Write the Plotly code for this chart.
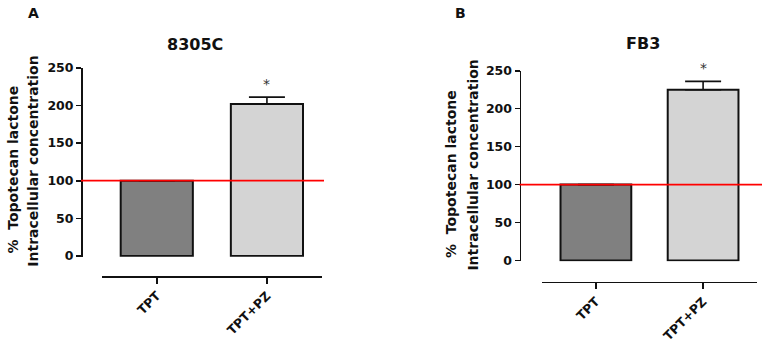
import plotly.graph_objects as go

# ---- data ----
categories = ["TPT", "TPT+PZ"]
values_a = [100, 202]
sem_a = [None, 9]
values_b = [100, 225]
sem_b = [None, 11]
title_a = "8305C"
title_b = "FB3"
y_tick_vals = [0, 50, 100, 150, 200, 250]
reference_level = 100
ytitle_line1 = "%  Topotecan lactone"
ytitle_line2 = "Intracellular concentration"
bar_colors = ["#808080", "#d4d4d4"]

W, H = 765, 348
FONT = "DejaVu Sans"

def px_x(p):
    return p / W

def px_y(p):
    return 1 - p / H

fig = go.Figure()

for i, (vals, sems, xa, ya) in enumerate([(values_a, sem_a, "x", "y"), (values_b, sem_b, "x2", "y2")]):
    fig.add_trace(go.Bar(
        x=categories, y=vals,
        xaxis=xa, yaxis=ya,
        width=0.655 if i == 0 else 0.66,
        marker=dict(color=bar_colors, line=dict(color="#111111", width=2)),
        error_y=dict(type="data", array=sems, arrayminus=[0, 0], symmetric=False,
                     color="#111111", thickness=1.6, width=18),
        showlegend=False, hoverinfo="skip",
    ))

axis_common = dict(showgrid=False, zeroline=False, showline=True, linecolor="#111111",
                   linewidth=1.6, ticks="outside", tickcolor="#111111", tickwidth=1.6,
                   automargin=False)
tick_font = dict(family=FONT, size=12.5, color="#111111", weight="bold")

# panel A geometry (pixels)
ya0_a, y250_a = 256.0, 67.8
sc_a = (ya0_a - y250_a) / 250
yb_a = ya0_a + sc_a * 1.0
# panel B geometry
ya0_b, y250_b = 260.5, 70.7
sc_b = (ya0_b - y250_b) / 250
yb_b = ya0_b + sc_b * 1.0

fig.update_layout(
    width=W, height=H, autosize=False,
    margin=dict(l=0, r=0, t=0, b=0, pad=0, autoexpand=False),
    paper_bgcolor="white", plot_bgcolor="rgba(0,0,0,0)",
    hovermode=False, dragmode=False,
    xaxis=dict(axis_common, domain=[px_x(101.7), px_x(322.0)], anchor="free", position=px_y(276.0),
               range=[-0.5, 1.5], ticklen=6, tickangle=-45, tickfont=tick_font),
    yaxis=dict(axis_common, domain=[px_y(yb_a), px_y(y250_a)], anchor="free", position=px_x(81.0),
               range=[-1, 250], tickvals=y_tick_vals, ticklen=5, tickfont=tick_font),
    xaxis2=dict(axis_common, domain=[px_x(542.3), px_x(756.7)], anchor="free", position=px_y(281.7),
                range=[-0.5, 1.5], ticklen=6, tickangle=-45, tickfont=tick_font),
    yaxis2=dict(axis_common, domain=[px_y(yb_b), px_y(y250_b)], anchor="free", position=px_x(519.5),
                range=[-1, 250], tickvals=y_tick_vals, ticklen=5, tickfont=tick_font),
)

# reference lines at 100%
fig.add_shape(type="line", xref="paper", yref="y", x0=px_x(81.0), x1=px_x(324.0),
              y0=reference_level, y1=reference_level, line=dict(color="#ff0000", width=1.8))
fig.add_shape(type="line", xref="paper", yref="y2", x0=px_x(519.5), x1=px_x(762.0),
              y0=reference_level, y1=reference_level, line=dict(color="#ff0000", width=1.8))

ann = []
# significance stars
for vals, sems, xr, yr in [(values_a, sem_a, "x", "y"), (values_b, sem_b, "x2", "y2")]:
    ann.append(dict(x=categories[1], y=vals[1] + sems[1], xref=xr, yref=yr, text="*",
                    showarrow=False, xanchor="center", yanchor="bottom", yshift=3,
                    font=dict(family=FONT, size=14, color="#333333")))

def paper_text(x, y, text, size, angle=0):
    return dict(x=px_x(x), y=px_y(y), xref="paper", yref="paper", text=text, showarrow=False,
                xanchor="center", yanchor="middle", textangle=angle, borderpad=0,
                font=dict(family=FONT, size=size, color="#111111", weight="bold"))

# titles
ann.append(paper_text(195, 45, title_a, 16))
ann.append(paper_text(642.5, 44, title_b, 16))
# panel letters
ann.append(paper_text(33, 13, "A", 14))
ann.append(paper_text(460, 13, "B", 14))
# y titles
for (x1, y1, x2, y2) in [(12.5, 170, 33, 161.7), (451, 174, 473, 165.6)]:
    ann.append(paper_text(x1, y1, ytitle_line1, 14, -90))
    ann.append(paper_text(x2, y2, ytitle_line2, 14, -90))
fig.update_layout(annotations=ann)

# remove the browser's default page margin so the figure sits at the window's top-left corner
fig.write_html("out.html", config={"displayModeBar": False, "staticPlot": True},
               post_script="document.body.style.margin='0px';")
